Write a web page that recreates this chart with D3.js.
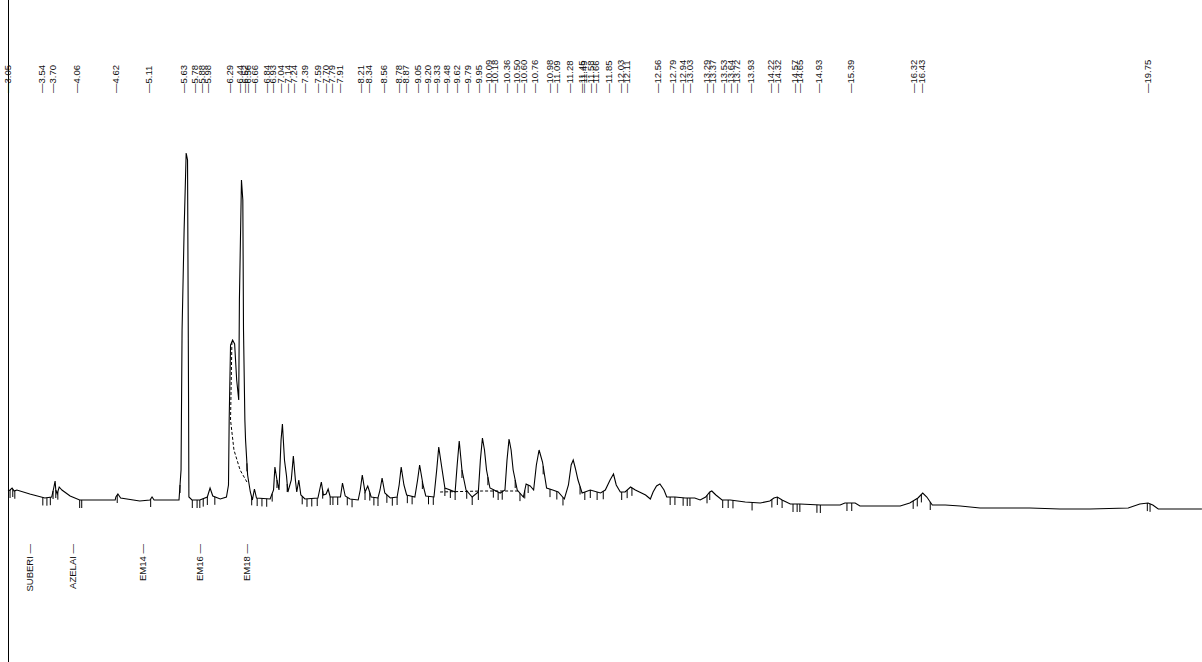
<!DOCTYPE html>
<html><head><meta charset="utf-8">
<script src="https://cdn.jsdelivr.net/npm/d3@7/dist/d3.min.js"></script>
<style>html,body{margin:0;padding:0;background:#fff;}svg{display:block;}</style>
</head><body>
<svg id="c" width="1202" height="662"></svg>
<script>
// Retention-time peak labels (min)
const peakLabels = [3.05,3.54,3.70,4.06,4.62,5.11,5.63,5.78,5.88,5.98,6.29,6.44,6.52,6.56,6.66,6.84,6.93,7.04,7.14,7.24,7.39,7.59,7.70,7.79,7.91,8.21,8.34,8.56,8.78,8.87,9.05,9.20,9.33,9.48,9.62,9.79,9.95,10.09,10.18,10.36,10.50,10.60,10.76,10.98,11.09,11.28,11.45,11.49,11.58,11.66,11.85,12.03,12.11,12.56,12.79,12.94,13.03,13.29,13.37,13.53,13.64,13.72,13.93,14.22,14.32,14.57,14.65,14.93,15.39,16.32,16.43,19.75];
// Compound (expected) labels
const compoundNames = ["SUBERI","AZELAI","EM14","EM16","EM18"];
const compoundTimes = [3.37,4.00,5.03,5.86,6.54];
// Signal trace: time (min)
const traceTime = [3.05,3.08,3.11,3.14,3.18,3.37,3.59,3.69,3.72,3.74,3.75,3.77,3.80,3.84,3.96,4.10,4.40,4.62,4.63,4.66,4.70,4.98,5.13,5.16,5.19,5.555,5.585,5.60,5.63,5.66,5.68,5.695,5.70,5.745,5.86,5.97,6.01,6.05,6.16,6.25,6.28,6.29,6.31,6.34,6.37,6.40,6.43,6.44,6.46,6.47,6.49,6.50,6.52,6.53,6.56,6.60,6.63,6.66,6.69,6.89,6.94,6.96,6.99,7.02,7.05,7.07,7.10,7.13,7.15,7.20,7.23,7.26,7.28,7.31,7.34,7.40,7.59,7.64,7.67,7.71,7.74,7.77,7.92,7.95,7.99,8.06,8.18,8.21,8.24,8.28,8.32,8.37,8.47,8.50,8.53,8.57,8.65,8.75,8.78,8.81,8.85,8.89,9.01,9.05,9.08,9.13,9.17,9.29,9.33,9.36,9.41,9.45,9.53,9.60,9.63,9.66,9.70,9.76,9.85,9.94,9.97,10.00,10.03,10.06,10.11,10.26,10.33,10.36,10.39,10.42,10.45,10.51,10.60,10.64,10.70,10.75,10.79,10.83,10.88,10.94,11.03,11.11,11.20,11.26,11.30,11.33,11.36,11.40,11.46,11.58,11.73,11.80,11.87,11.92,11.96,12.02,12.09,12.17,12.24,12.39,12.46,12.50,12.55,12.60,12.66,12.70,12.82,12.97,13.11,13.19,13.27,13.33,13.36,13.42,13.51,13.63,13.85,14.07,14.21,14.27,14.32,14.39,14.51,14.65,14.95,15.24,15.31,15.46,15.53,15.82,16.12,16.26,16.38,16.45,16.51,16.59,16.78,17.00,17.29,17.58,18.02,18.46,18.90,19.46,19.63,19.75,19.82,19.90,20.54];
// Signal trace: detector response (arbitrary units)
const traceSignal = [19,20,22,19,20,16,12,13,22,29,20,16,23,20,14,10,10,10,13,16,12,9,10,13,10,10,40,180,280,357,350,110,13,10,10,13,22,14,11,13,25,90,165,170,166,130,110,210,290,330,310,180,90,70,35,18,10,21,12,11,20,43,30,20,70,86,50,34,18,30,54,30,18,30,15,11,12,28,15,16,21,13,13,27,14,11,10,20,35,18,24,13,12,20,32,17,12,13,25,43,25,15,13,30,45,25,14,13,40,63,40,22,20,18,45,69,40,20,13,18,50,72,60,40,22,17,20,50,71,60,40,20,13,26,24,20,45,60,48,22,20,18,11,25,45,50,42,30,17,20,17,20,30,36,25,18,18,23,20,15,11,18,24,26,20,13,13,12,12,10,13,18,19,15,10,10,8,7,9,12,13,10,6,6,5,5,7,7,4,4,4,7,12,17,13,5,5,4,2,2,2,1,1,2,6,7,5,1,1];
// Integration event marks (min)
const eventMarks = [3.08,3.12,3.15,3.56,3.62,3.67,3.71,3.75,3.78,4.10,4.13,4.65,5.14,5.57,5.75,5.82,5.86,5.91,5.97,6.08,6.55,6.62,6.70,6.77,6.84,6.92,6.99,7.14,7.36,7.43,7.50,7.58,7.66,7.77,7.81,7.88,8.02,8.09,8.28,8.35,8.41,8.47,8.60,8.68,8.75,8.90,8.97,9.12,9.21,9.28,9.45,9.53,9.60,9.70,9.77,9.85,9.94,10.08,10.16,10.23,10.29,10.48,10.55,10.62,10.67,10.89,10.99,11.09,11.18,11.43,11.50,11.58,11.68,11.77,12.04,12.12,12.19,12.75,12.82,12.94,13.00,13.04,13.29,13.33,13.52,13.60,13.67,13.95,14.24,14.32,14.39,14.55,14.61,14.65,14.90,14.95,15.34,15.41,16.31,16.37,16.43,16.56,19.74,19.78];
// Dashed baselines
const dashA_t = [6.33,6.31,6.36,6.45,6.55];
const dashA_s = [168,90,60,40,28];
const dashB_t = [9.38,10.00,10.55];
const dashB_s = [18,19,19];

const svg = d3.select("#c");
const x = d3.scaleLinear().domain([3.05,19.75]).range([8,1148]);
const y = d3.scaleLinear().domain([0,360]).range([510,150]);
const FONT = "'Liberation Sans', Arial, sans-serif";

// left axis line
svg.append("line").attr("x1",8.5).attr("x2",8.5).attr("y1",0).attr("y2",662)
  .attr("stroke","#000").attr("stroke-width",1);

const trace = traceTime.map((t,i)=>[t,traceSignal[i]]);
const line = d3.line().x(d=>x(d[0])).y(d=>y(d[1]));
svg.append("path").datum(trace).attr("d",line).attr("fill","none")
  .attr("stroke","#000").attr("stroke-width",1.1);

// event marks
const bis = d3.bisector(d=>d[0]).left;
function sigAt(t){
  const i = Math.max(1, Math.min(trace.length-1, bis(trace,t)));
  const a = trace[i-1], b = trace[i];
  const f = (t-a[0])/(b[0]-a[0]);
  return a[1]+(b[1]-a[1])*f;
}
svg.append("g").selectAll("line").data(eventMarks).join("line")
  .attr("x1",d=>x(d)).attr("x2",d=>x(d))
  .attr("y1",d=>y(sigAt(d))).attr("y2",d=>y(sigAt(d))+8)
  .attr("stroke","#000").attr("stroke-width",1);

// dashed baselines
[[dashA_t,dashA_s],[dashB_t,dashB_s]].forEach(([ts,ss])=>{
  svg.append("path").datum(ts.map((t,i)=>[t,ss[i]])).attr("d",line)
    .attr("fill","none").attr("stroke","#000").attr("stroke-width",1)
    .attr("stroke-dasharray","3,2");
});

// peak labels (top)
svg.append("g").selectAll("text").data(peakLabels).join("text")
  .attr("transform",d=>`translate(${x(d)},93) rotate(-90)`)
  .attr("dy","0.35em").attr("text-anchor","start")
  .attr("font-family",FONT).attr("font-size",9.5).attr("fill","#111")
  .text(d=>"\u2014"+d.toFixed(2));

// compound labels (bottom)
svg.append("g").selectAll("text").data(compoundNames).join("text")
  .attr("transform",(d,i)=>`translate(${x(compoundTimes[i])},544) rotate(-90)`)
  .attr("dy","0.35em").attr("text-anchor","end")
  .attr("font-family",FONT).attr("font-size",9.5).attr("fill","#111")
  .text(d=>d+" \u2014");
</script>
</body></html>
